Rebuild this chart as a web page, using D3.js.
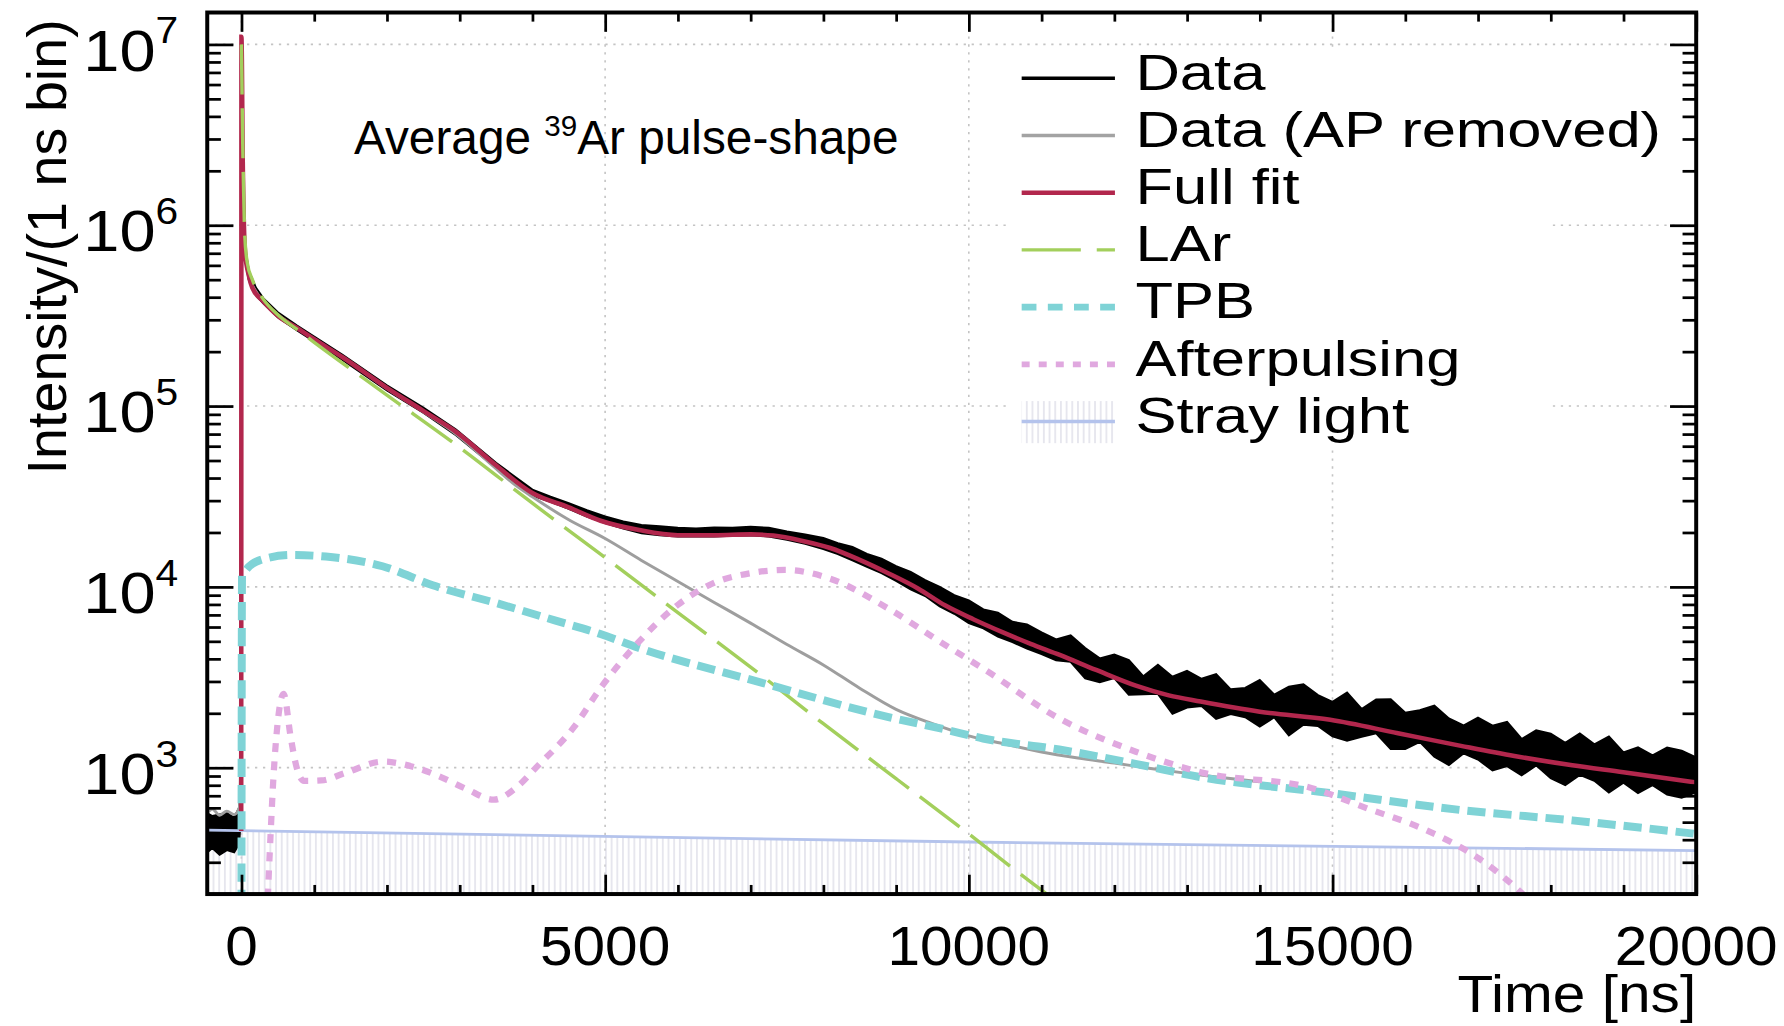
<!DOCTYPE html>
<html>
<head>
<meta charset="utf-8">
<script src="https://cdn.jsdelivr.net/npm/d3@7"></script>
<style>
    html, body { margin: 0; padding: 0; background: #fff; }
    svg { display: block; }
    text { font-family: "Liberation Sans", Arial, Helvetica, sans-serif; fill: #000; }
</style>
</head>
<body>
<svg id="chart" width="1784" height="1026" viewBox="0 0 1568 902"></svg>
<script>
// axis ticks and labels
const timeTicks = [0, 5000, 10000, 15000, 20000];
const timeTickLabels = ["0", "5000", "10000", "15000", "20000"];
const decadeTicks = [1e3, 1e4, 1e5, 1e6, 1e7];
const decadeExponents = ["3", "4", "5", "6", "7"];

// Data: noisy histogram, read as lower / upper edge of the black band
const dataTime = [-470, -400, -300, -200, -100, -30, -15, -5, 0, 20, 50, 100, 200, 300, 500, 765, 1000, 1390, 2000, 2500,
    2950, 3500, 4000, 4250, 4500, 4750, 5000, 5250, 5500, 5750, 6000, 6250, 6500, 6750, 7000, 7250, 7500, 7750,
    8000, 8200, 8400, 8600, 8800, 9000, 9200, 9400, 9600, 9800,
    10000, 10200, 10400, 10600, 10800, 11000, 11200, 11400, 11600, 11800,
    12000, 12200, 12400, 12600, 12800, 13000, 13200, 13400, 13600, 13800,
    14000, 14200, 14400, 14600, 14800, 15000, 15200, 15400, 15600, 15800,
    16000, 16200, 16400, 16600, 16800, 17000, 17200, 17400, 17600, 17800,
    18000, 18200, 18400, 18600, 18800, 19000, 19200, 19400, 19600, 19800, 20000];
const dataLow = [340, 360, 330, 350, 340, 380, 500, 1500, 1.0e7, 1.8e6, 6.5e5, 5.0e5, 4.1e5, 3.7e5, 3.1e5, 2.62e5, 2.28e5, 1.8e5, 1.22e5, 9.2e4,
    6.9e4, 4.55e4, 3.2e4, 2.95e4, 2.7e4, 2.45e4, 2.25e4, 2.1e4, 1.98e4, 1.93e4, 1.9e4, 1.9e4, 1.9e4, 1.92e4, 1.93e4, 1.9e4, 1.82e4, 1.73e4,
    16200, 15200, 14000, 12900, 11900, 10800, 9700, 8900, 7800, 7100,
    6300, 5900, 5300, 4950, 4550, 4250, 3930, 3850, 3120, 2970,
    3130, 2530, 2550, 2560, 1990, 2150, 2190, 1860, 1980, 1900,
    1690, 1900, 1510, 1730, 1700, 1490, 1410, 1480, 1550, 1270,
    1270, 1390, 1150, 1035, 1200, 1110, 966, 1020, 907, 1030,
    874, 800, 912, 847, 729, 827, 724, 800, 710, 682, 731];
const dataHigh = [560, 540, 550, 560, 530, 600, 900, 3000, 1.1e7, 2.2e6, 7.5e5, 5.6e5, 4.5e5, 3.95e5, 3.3e5, 2.78e5, 2.42e5, 1.92e5, 1.3e5, 9.8e4,
    7.4e4, 4.85e4, 3.45e4, 3.15e4, 2.9e4, 2.65e4, 2.45e4, 2.3e4, 2.2e4, 2.16e4, 2.12e4, 2.1e4, 2.13e4, 2.12e4, 2.15e4, 2.12e4, 2.02e4, 1.95e4,
    18600, 17400, 16600, 15200, 14300, 13000, 12100, 10900, 10000, 9000,
    8400, 7500, 7200, 6400, 6200, 5600, 5120, 5390, 4590, 4020,
    4220, 3930, 3200, 3700, 3180, 3430, 3100, 3290, 2710, 2760,
    3050, 2530, 2800, 2890, 2520, 2310, 2600, 2110, 2380, 2390,
    2010, 2080, 2200, 1870, 1710, 1890, 1705, 1790, 1440, 1610,
    1540, 1370, 1545, 1345, 1485, 1215, 1295, 1170, 1290, 1240, 1137];

// Data (AP removed)
const apRemovedTime = [-470, -400, -300, -200, -100, -30, -12, -4, 0, 20, 50, 100, 200, 300, 500, 765, 1000, 1390,
    2000, 2500, 2950, 3500, 3730, 4000, 4500, 5000, 5500, 6000, 6500, 7000, 7500, 8000, 8500, 9000, 9500,
    10000, 10500, 11000, 11500, 12000, 12500, 13000, 13500, 14000];
const apRemovedValue = [560, 590, 545, 575, 550, 600, 1000, 3000, 1.05e7, 2.0e6, 7.0e5, 5.3e5, 4.3e5, 3.8e5, 3.2e5, 2.7e5, 2.34e5, 1.86e5,
    1.25e5, 9.3e4, 7.0e4, 4.5e4, 3.75e4, 3.15e4, 2.35e4, 1.85e4, 1.4e4, 1.07e4, 8.2e3, 6.3e3, 4.8e3, 3.7e3, 2.75e3, 2.1e3, 1.75e3,
    1.5e3, 1.35e3, 1.22e3, 1.13e3, 1.06e3, 990, 930, 880, 835];

// Full fit
const fitTime = [-3, 0, 20, 50, 100, 150, 300, 500, 765, 1000, 1390, 2000, 2500, 2950, 3500, 4000, 4500, 4938, 5469,
    6000, 6500, 7000, 7313, 7700, 8094, 8500, 8891, 9300, 9672, 10069, 10469, 10850, 11250, 11750, 12297, 12750, 13188,
    14000, 14969, 15900, 16766, 17500, 18297, 19000, 20000];
const fitValue = [447, 1.1e7, 2.0e6, 7.1e5, 5.3e5, 4.5e5, 3.8e5, 3.16e5, 2.7e5, 2.34e5, 1.86e5, 1.26e5, 9.4e4, 7.2e4, 4.7e4, 3.3e4, 2.75e4, 2.32e4, 2.06e4,
    1.93e4, 1.93e4, 1.95e4, 1.92e4, 1.8e4, 1.64e4, 1.41e4, 1.19e4, 9.8e3, 7.9e3, 6.6e3, 5.6e3, 4.84e3, 4.2e3, 3.47e3, 2.84e3, 2.51e3, 2.32e3,
    2.04e3, 1.84e3, 1.55e3, 1.32e3, 1.16e3, 1.03e3, 944, 828];

// LAr component
const larTime = [0, 20, 45, 80, 150, 300, 500, 765, 1000, 2000, 3000, 4000, 5000, 6000, 7000, 8000, 9000, 10000, 11000, 11500];
const larValue = [1.0e7, 2.5e6, 9.0e5, 6.2e5, 5.0e5, 3.9e5, 3.2e5, 2.65e5, 2.25e5, 1.15e5, 5.9e4, 2.9e4, 1.45e4, 7.2e3, 3.6e3, 1.75e3, 870, 430, 210, 150];

// TPB component
const tpbTime = [0, 8, 50, 265, 690, 1160, 1940, 2630, 3520, 4320, 4926, 5457, 7037, 8882, 9664, 10196, 11243, 12291, 13182, 14965, 16763, 18296, 20000];
const tpbValue = [120, 1.15e4, 1.22e4, 1.41e4, 1.5e4, 1.47e4, 1.3e4, 1.02e4, 8.1e3, 6.5e3, 5.5e3, 4.6e3, 3.04e3, 1.91e3, 1.63e3, 1.45e3, 1.26e3, 1.05e3, 887, 724, 583, 511, 430];

// Afterpulsing component
const afterTime = [340, 400, 437, 500, 579, 680, 760, 860, 1100, 1423, 1945, 2400, 2735, 3100, 3470, 3800, 4050, 4574, 4938, 5469,
    6000, 6516, 7000, 7469, 8094, 8891, 9672, 10203, 11250, 12297, 13188, 14719, 15484, 16250, 17016, 17531, 17800];
const afterValue = [120, 420, 840, 1800, 2560, 1450, 1000, 845, 850, 933, 1080, 1000, 890, 760, 665, 790, 1000, 1680, 2760, 4990,
    7950, 1.06e4, 1.19e4, 1.24e4, 1.11e4, 7590, 4780, 3520, 1865, 1225, 944, 770, 594, 458, 314, 215, 170];

// Stray light
const strayTime = [-470, 10000, 20000];
const strayValue = [451, 388, 348];

const legendLabels = ["Data", "Data (AP removed)", "Full fit", "LAr", "TPB", "Afterpulsing", "Stray light"];

const svg = d3.select("#chart");
const plotLeft = 182, plotRight = 1491, plotTop = 11, plotBottom = 786;

const x = d3.scaleLinear().domain([-470, 20000]).range([plotLeft, plotRight]);
const y = d3.scaleLog().domain([200, 1.5e7]).range([plotBottom, plotTop]);

const zip = (ts, vs) => ts.map((t, i) => ({ t: t, v: vs[i] }));

const defs = svg.append("defs");
defs.append("clipPath").attr("id", "plot-clip")
    .append("rect")
    .attr("x", plotLeft).attr("y", plotTop)
    .attr("width", plotRight - plotLeft).attr("height", plotBottom - plotTop);

const hatch = defs.append("pattern")
    .attr("id", "hatch")
    .attr("patternUnits", "userSpaceOnUse")
    .attr("width", 5).attr("height", 10);
hatch.append("line")
    .attr("x1", 2.5).attr("x2", 2.5).attr("y1", 0).attr("y2", 10)
    .attr("stroke", "#d6d6e2").attr("stroke-width", 1);

// grid
const grid = svg.append("g").attr("class", "grid");
grid.selectAll("line.gx").data(timeTicks).join("line")
    .attr("class", "gx")
    .attr("x1", d => x(d)).attr("x2", d => x(d))
    .attr("y1", plotTop).attr("y2", plotBottom);
grid.selectAll("line.gy").data(decadeTicks).join("line")
    .attr("class", "gy")
    .attr("x1", plotLeft).attr("x2", plotRight)
    .attr("y1", d => y(d)).attr("y2", d => y(d));
grid.selectAll("line")
    .attr("stroke", "#c4c4c4")
    .attr("stroke-width", 1.4)
    .attr("stroke-dasharray", "2,5");

const plot = svg.append("g").attr("clip-path", "url(#plot-clip)");

// stray light hatch
const stray = zip(strayTime, strayValue);
plot.append("path")
    .datum(stray)
    .attr("d", d3.area().x(d => x(d.t)).y0(plotBottom).y1(d => y(d.v)))
    .attr("fill", "url(#hatch)");

// data band
const dataPts = dataTime.map((t, i) => ({ t: t, lo: dataLow[i], hi: dataHigh[i] }));
plot.append("path")
    .datum(dataPts)
    .attr("d", d3.area().x(d => x(d.t)).y0(d => y(d.lo)).y1(d => y(d.hi)))
    .attr("fill", "#000")
    .attr("stroke", "#000")
    .attr("stroke-width", 1.8)
    .attr("stroke-linejoin", "miter");

const line = d3.line().x(d => x(d.t)).y(d => y(d.v));
const smooth = d3.line().x(d => x(d.t)).y(d => y(d.v)).curve(d3.curveMonotoneX);

plot.append("path")
    .datum(stray)
    .attr("d", line)
    .attr("fill", "none")
    .attr("stroke", "#b4c3ec")
    .attr("stroke-width", 2.5);

plot.append("path")
    .datum(zip(apRemovedTime, apRemovedValue))
    .attr("d", smooth)
    .attr("fill", "none")
    .attr("stroke", "#9e9e9e")
    .attr("stroke-width", 2.6);

plot.append("path")
    .datum(zip(fitTime, fitValue))
    .attr("d", smooth)
    .attr("fill", "none")
    .attr("stroke", "#b2274d")
    .attr("stroke-width", 4);

plot.append("path")
    .datum(zip(larTime, larValue))
    .attr("d", smooth)
    .attr("fill", "none")
    .attr("stroke", "#a3cf5c")
    .attr("stroke-width", 3)
    .attr("stroke-dasharray", "44,12");

plot.append("path")
    .datum(zip(tpbTime, tpbValue))
    .attr("d", smooth)
    .attr("fill", "none")
    .attr("stroke", "#7fd3d6")
    .attr("stroke-width", 7)
    .attr("stroke-dasharray", "16,7");

plot.append("path")
    .datum(zip(afterTime, afterValue))
    .attr("d", smooth)
    .attr("fill", "none")
    .attr("stroke", "#e0a8df")
    .attr("stroke-width", 5.5)
    .attr("stroke-dasharray", "8,8");

// legend
const legendStyle = [
    { stroke: "#000", width: 3, dash: null },
    { stroke: "#a3a3a3", width: 3, dash: null },
    { stroke: "#b2274d", width: 4, dash: null },
    { stroke: "#a3cf5c", width: 3, dash: "52,14" },
    { stroke: "#7fd3d6", width: 6, dash: "13,10" },
    { stroke: "#e0a8df", width: 5, dash: "7,8" },
    { stroke: "#b4c3ec", width: 3, dash: null }
];
const legend = svg.append("g");
legend.append("rect")
    .attr("x", 888).attr("y", 42).attr("width", 474).attr("height", 350)
    .attr("fill", "#fff");
const rowY = i => 68.8 + 50.3 * i;
legend.append("rect")
    .attr("x", 898).attr("y", rowY(6) - 18).attr("width", 82).attr("height", 37)
    .attr("fill", "url(#hatch)");
legendLabels.forEach((label, i) => {
    const st = legendStyle[i];
    legend.append("line")
        .attr("x1", 898).attr("x2", 980)
        .attr("y1", rowY(i)).attr("y2", rowY(i))
        .attr("stroke", st.stroke)
        .attr("stroke-width", st.width)
        .attr("stroke-dasharray", st.dash);
    legend.append("text")
        .attr("transform", `translate(998, ${rowY(i) + 10}) scale(1.23, 1)`)
        .style("font-size", "44px")
        .text(label);
});

// frame and ticks
const axisStyle = g => {
    g.select(".domain").remove();
    g.selectAll(".tick line").attr("stroke", "#000").attr("stroke-width", 2.4);
    g.selectAll(".tick text").remove();
};
const minorDecades = d3.range(3, 7).flatMap(e => d3.range(2, 10).map(m => m * Math.pow(10, e - 1)))
    .concat(d3.range(2, 10).map(m => m * 1e6))
    .filter(v => v > 200 && v < 1.5e7);
const minorTimes = d3.range(1000, 20000, 1000).filter(t => t % 5000 !== 0);

svg.append("g").attr("transform", `translate(${plotLeft},0)`)
    .call(d3.axisLeft(y).tickValues(decadeTicks).tickSize(-23)).call(axisStyle);
svg.append("g").attr("transform", `translate(${plotLeft},0)`)
    .call(d3.axisLeft(y).tickValues(minorDecades).tickSize(-12)).call(axisStyle);
svg.append("g").attr("transform", `translate(${plotRight},0)`)
    .call(d3.axisRight(y).tickValues(decadeTicks).tickSize(-23)).call(axisStyle);
svg.append("g").attr("transform", `translate(${plotRight},0)`)
    .call(d3.axisRight(y).tickValues(minorDecades).tickSize(-12)).call(axisStyle);
svg.append("g").attr("transform", `translate(0,${plotBottom})`)
    .call(d3.axisBottom(x).tickValues(timeTicks).tickSize(-17)).call(axisStyle);
svg.append("g").attr("transform", `translate(0,${plotBottom})`)
    .call(d3.axisBottom(x).tickValues(minorTimes).tickSize(-8)).call(axisStyle);
svg.append("g").attr("transform", `translate(0,${plotTop})`)
    .call(d3.axisTop(x).tickValues(timeTicks).tickSize(-17)).call(axisStyle);
svg.append("g").attr("transform", `translate(0,${plotTop})`)
    .call(d3.axisTop(x).tickValues(minorTimes).tickSize(-8)).call(axisStyle);

svg.append("rect")
    .attr("x", plotLeft).attr("y", plotTop)
    .attr("width", plotRight - plotLeft).attr("height", plotBottom - plotTop)
    .attr("fill", "none")
    .attr("stroke", "#000")
    .attr("stroke-width", 3.5);

// tick labels
svg.append("g").selectAll("text").data(timeTicks).join("text")
    .attr("transform", d => `translate(${x(d)}, 848) scale(1.05, 1)`)
    .attr("text-anchor", "middle")
    .style("font-size", "49px")
    .text((d, i) => timeTickLabels[i]);

const yLab = svg.append("g").selectAll("text").data(decadeTicks).join("text")
    .attr("transform", d => `translate(73, ${y(d) + 23}) scale(1.12, 1)`)
    .style("font-size", "51px");
yLab.append("tspan").text("10");
yLab.append("tspan")
    .attr("dy", -24)
    .style("font-size", "32px")
    .text((d, i) => decadeExponents[i]);

// axis titles
svg.append("text")
    .attr("transform", `translate(${plotRight}, 890) scale(1.12, 1)`)
    .attr("text-anchor", "end")
    .style("font-size", "46px")
    .text("Time [ns]");

svg.append("text")
    .attr("transform", "translate(58, 217) rotate(-90)")
    .attr("text-anchor", "middle")
    .style("font-size", "49px")
    .text("Intensity/(1 ns bin)");

// annotation
const note = svg.append("text")
    .attr("x", 311)
    .attr("y", 135)
    .style("font-size", "42px");
note.append("tspan").text("Average ");
note.append("tspan").attr("dy", -15).style("font-size", "26px").text("39");
note.append("tspan").attr("dy", 15).text("Ar pulse-shape");
</script>
</body>
</html>
